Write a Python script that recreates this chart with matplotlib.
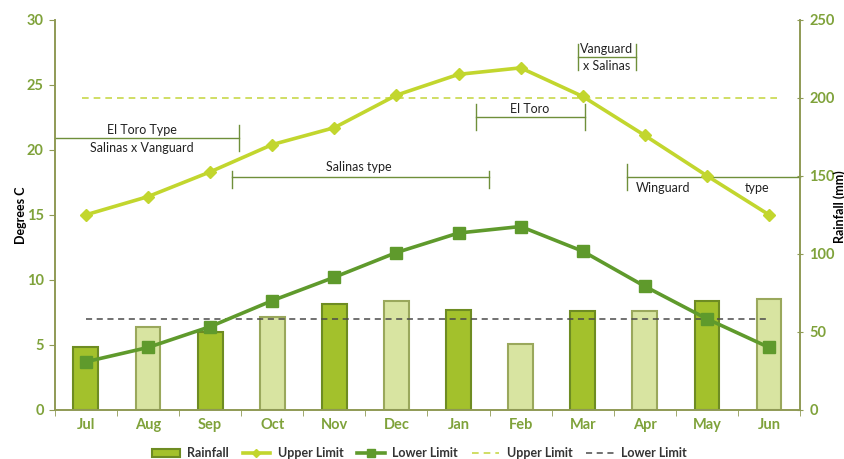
import numpy as np
import matplotlib
matplotlib.use("Agg")
import matplotlib.pyplot as plt
from matplotlib.lines import Line2D
from matplotlib.patches import Patch

plt.rcParams['font.family'] = ['Lato', 'DejaVu Sans']

# data
months = ['Jul', 'Aug', 'Sep', 'Oct', 'Nov', 'Dec', 'Jan', 'Feb', 'Mar', 'Apr', 'May', 'Jun']
rainfall = [40, 53, 50, 59.5, 68, 70, 64, 42, 63.5, 63.5, 70, 71]
upper_temp = [15.0, 16.4, 18.3, 20.4, 21.7, 24.2, 25.8, 26.3, 24.1, 21.1, 18.0, 15.0]
lower_temp = [3.7, 4.8, 6.4, 8.4, 10.2, 12.1, 13.6, 14.1, 12.2, 9.5, 7.0, 4.8]
upper_limit = 24
lower_limit = 7

green_txt = '#7fa23a'
spine_col = '#8f9a55'
up_col = '#c2d62e'
low_col = '#5f9a2c'
dark_bar, dark_edge = '#a3c12c', '#6e8c22'
light_bar, light_edge = '#d8e4a1', '#9aa85c'

x = np.arange(len(months))

fig = plt.figure(figsize=(8.44, 4.59), dpi=100)
ax = fig.add_axes([0.065, 0.107, 0.883, 0.850])
ax2 = ax.twinx()

# rainfall bars on the right axis
face = [dark_bar if i % 2 == 0 else light_bar for i in x]
edge = [dark_edge if i % 2 == 0 else light_edge for i in x]
ax2.bar(x, rainfall, width=0.4, color=face, edgecolor=edge, linewidth=1.5, zorder=1)
ax2.set_ylim(0, 250)
ax2.set_yticks(range(0, 251, 50))

ax.set_zorder(ax2.get_zorder() + 1)
ax.patch.set_visible(False)

# temperature lines
ax.plot(x, upper_temp, color=up_col, lw=2.6, marker='D', ms=6, zorder=4)
ax.plot(x, lower_temp, color=low_col, lw=2.6, marker='s', ms=8, zorder=4)
ax.plot([-0.06, 11.15], [upper_limit] * 2, ls=(0, (4, 3)), color='#c8d84a', lw=1.2, zorder=3)
ax.plot([0, 11], [lower_limit] * 2, ls=(0, (4, 3)), color='#4a4a4a', lw=1.1, zorder=3)

ax.set_xlim(-0.5, 11.5)
ax.set_ylim(0, 30)
ax.set_yticks(range(0, 31, 5))
ax.set_xticks(x)
ax.set_xticklabels(months)
ax.set_xticks(np.arange(-0.5, 11.6, 1), minor=True)
ax.tick_params(axis='x', which='major', length=0, pad=6)
ax.tick_params(axis='x', which='minor', length=4, color=spine_col, direction='out')
ax.tick_params(axis='y', length=4, color=spine_col, pad=4)
ax2.tick_params(axis='y', length=5, color=spine_col, direction='inout', pad=4)

for a in (ax, ax2):
    for lab in a.get_xticklabels() + a.get_yticklabels():
        lab.set_color(green_txt)
        lab.set_fontweight('bold')
        lab.set_fontsize(10.5)
    for s in ('left', 'bottom', 'right'):
        a.spines[s].set_color(spine_col)
        a.spines[s].set_linewidth(1.2)
    a.spines['top'].set_visible(False)

ax.set_ylabel('Degrees C', fontsize=9, fontweight='bold')
ax.yaxis.set_label_coords(-0.037, 0.5)
ax2.set_ylabel('Rainfall (mm)', fontsize=9, fontweight='bold', rotation=90)
ax2.yaxis.set_label_coords(1.044, 0.52)

# cultivar range brackets
bk = '#6f8f3a'
def bracket(x0, x1, y, h0, h1, left=True, right=True):
    ax.plot([x0, x1], [y, y], color=bk, lw=1, zorder=2, clip_on=False)
    if left:
        ax.plot([x0, x0], [y - h0, y + h1], color=bk, lw=1, zorder=2)
    if right:
        ax.plot([x1, x1], [y - h0, y + h1], color=bk, lw=1, zorder=2)

tk = dict(fontsize=9, color='#222222', ha='center', va='center')
bracket(-0.5, 2.46, 20.9, 1.0, 1.0, left=False)
ax.text(0.9, 21.5, 'El Toro Type', **tk)
ax.text(0.9, 20.1, 'Salinas x Vanguard', **tk)

bracket(2.35, 6.49, 17.9, 0.8, 0.5)
ax.text(4.4, 18.65, 'Salinas type', **tk)

bracket(6.28, 8.04, 22.5, 1.0, 1.0)
ax.text(7.15, 23.1, 'El Toro', **tk)

bracket(7.92, 8.86, 27.1, 1.0, 1.0)
ax.text(8.39, 27.75, 'Vanguard', **tk)
ax.text(8.39, 26.45, 'x Salinas', **tk)

bracket(8.71, 11.5, 17.9, 1.0, 1.0, right=False)
ax.text(9.3, 17.1, 'Winguard', **tk)
ax.text(10.8, 17.1, 'type', **tk)

# legend, partly cut by the bottom edge as in the reference
handles = [
    Patch(facecolor=dark_bar, edgecolor=dark_edge, lw=1.5),
    Line2D([], [], color=up_col, lw=2.6, marker='D', ms=4),
    Line2D([], [], color=low_col, lw=2.6, marker='s', ms=6),
    Line2D([], [], color='#c8d84a', lw=1.2, ls=(0, (4, 3))),
    Line2D([], [], color='#4a4a4a', lw=1.1, ls=(0, (4, 3))),
]
labels = ['Rainfall', 'Upper Limit', 'Lower Limit', 'Upper Limit', 'Lower Limit']
leg = fig.legend(handles, labels, loc='center', bbox_to_anchor=(0.497, 0.012), ncol=5,
                 frameon=False, fontsize=9, handlelength=2.2, handletextpad=0.6,
                 columnspacing=1.1)
for t in leg.get_texts():
    t.set_fontweight('bold')
    t.set_color('#333333')

fig.savefig('out.png', dpi=100)
